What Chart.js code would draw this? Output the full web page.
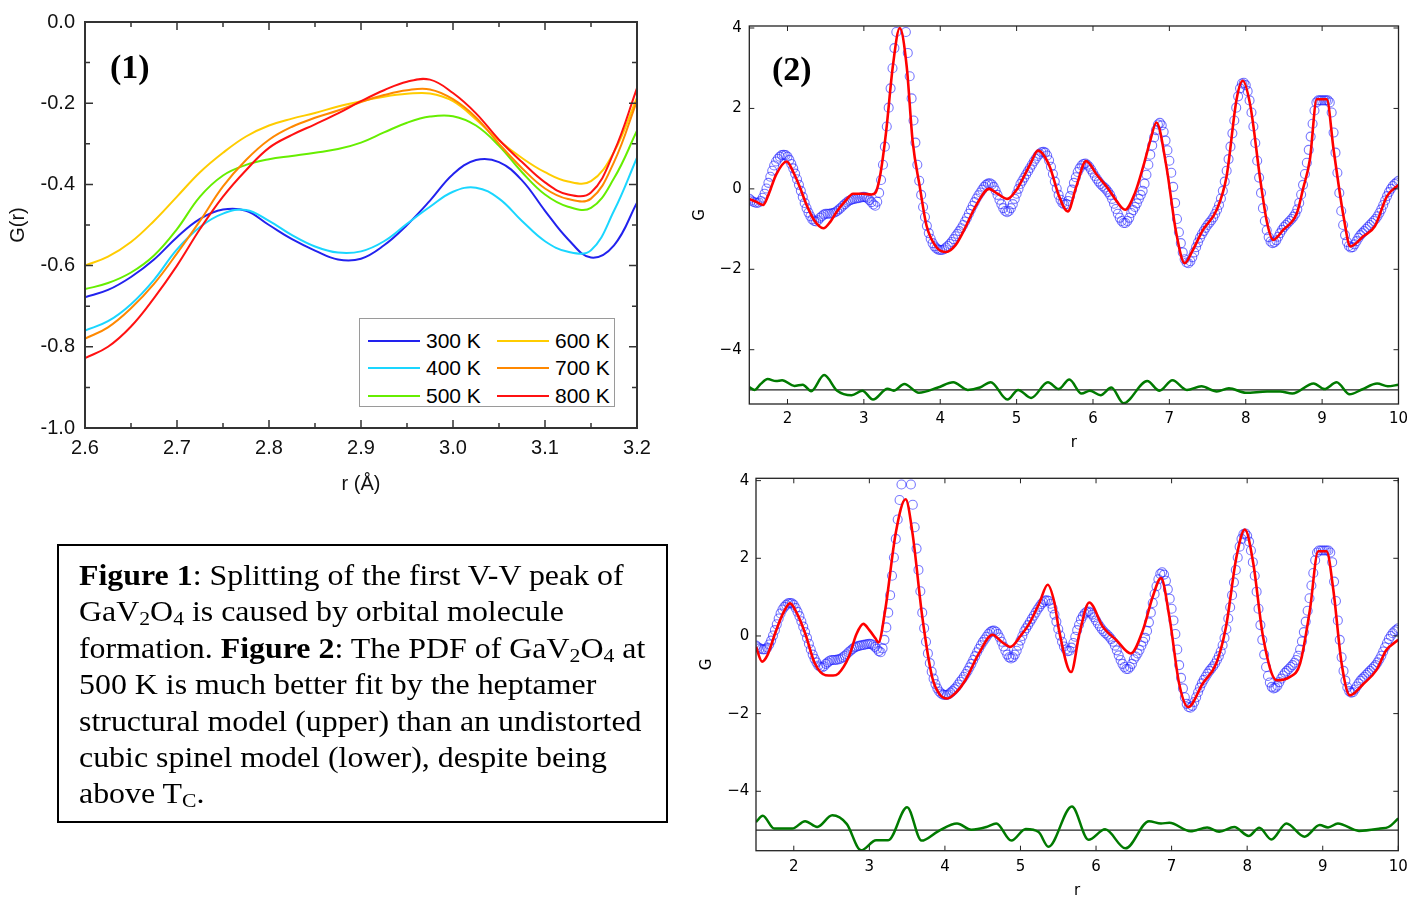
<!DOCTYPE html>
<html>
<head>
<meta charset="utf-8">
<script src="https://cdn.jsdelivr.net/npm/chart.js@4.4.1/dist/chart.umd.min.js"></script>
<style>
html, body { margin: 0; padding: 0; background: #fff; overflow: hidden; }
canvas { position: absolute; }
#c1 { left: 0; top: 0; }
#c2 { left: 690px; top: 0; }
#c3 { left: 690px; top: 455px; }
.tag { position: absolute; font: bold 34px "Liberation Serif", "Times New Roman", serif; line-height: 34px; color: #000; }
#legend1 {
  position: absolute; left: 359px; top: 318px; width: 256px; height: 89px;
  box-sizing: border-box; border: 1px solid #9a9a9a; background: #fff;
  padding: 8px 0 0 8px; display: grid; grid-template-columns: 129px 119px;
  grid-template-rows: repeat(3, 27.5px); grid-auto-flow: column;
  font: 21px "Liberation Sans", Arial, sans-serif; color: #000;
}
#legend1 .it { display: flex; align-items: center; white-space: nowrap; }
#legend1 .sw { display: inline-block; width: 52px; height: 0; border-top: 2px solid; margin-right: 6px; }
#caption {
  position: absolute; left: 57px; top: 544px; width: 611px; height: 279px;
  box-sizing: border-box; border: 2px solid #000; padding: 10.9px 0 0 19.5px;
  font-family: "Liberation Serif", "Times New Roman", serif; font-size: 29px; line-height: 36.4px; color: #000;
}
#caption .inner { transform: scaleX(1.1); transform-origin: 0 0; white-space: nowrap; }
#caption sub { font-size: 0.68em; line-height: 0; vertical-align: -0.22em; }
</style>
</head>
<body>
<canvas id="c1" width="670" height="500"></canvas>
<canvas id="c2" width="734" height="460"></canvas>
<canvas id="c3" width="734" height="460"></canvas>
<div id="legend1"></div>
<div class="tag" style="left:110px; top:50px;">(1)</div>
<div class="tag" style="left:772px; top:52px;">(2)</div>
<div id="caption"><div class="inner">
<div><b>Figure 1</b>: Splitting of the first V-V peak of</div>
<div>GaV<sub>2</sub>O<sub>4</sub> is caused by orbital molecule</div>
<div>formation. <b>Figure 2</b>: The PDF of GaV<sub>2</sub>O<sub>4</sub> at</div>
<div>500 K is much better fit by the heptamer</div>
<div>structural model (upper) than an undistorted</div>
<div>cubic spinel model (lower), despite being</div>
<div>above T<sub>C</sub>.</div>
</div></div>
<script>
// ---- panel (1): first V-V peak, G(r) vs temperature
var rFirst = [2.600, 2.625, 2.650, 2.675, 2.700, 2.725, 2.750, 2.775, 2.800, 2.825, 2.850, 2.875, 2.900,
              2.925, 2.950, 2.975, 3.000, 3.025, 3.050, 3.075, 3.100, 3.125, 3.150, 3.175, 3.200];
var temps = ['300 K', '400 K', '500 K', '600 K', '700 K', '800 K'];
var tempColors = ['#2222ee', '#1ad6ff', '#66ee00', '#ffcc00', '#ff8800', '#ff1111'];
var g300 = [-0.678, -0.660, -0.628, -0.585, -0.530, -0.485, -0.462, -0.465, -0.500, -0.535, -0.563, -0.585, -0.583,
            -0.550, -0.500, -0.440, -0.375, -0.340, -0.345, -0.390, -0.465, -0.535, -0.580, -0.550, -0.445];
var g400 = [-0.760, -0.737, -0.695, -0.635, -0.560, -0.505, -0.472, -0.463, -0.490, -0.525, -0.553, -0.568, -0.565,
            -0.540, -0.497, -0.455, -0.418, -0.408, -0.435, -0.490, -0.540, -0.566, -0.562, -0.465, -0.334];
var g500 = [-0.658, -0.643, -0.617, -0.575, -0.510, -0.430, -0.378, -0.352, -0.338, -0.330, -0.322, -0.313, -0.297,
            -0.272, -0.248, -0.233, -0.232, -0.255, -0.305, -0.370, -0.425, -0.455, -0.458, -0.385, -0.268];
var g600 = [-0.600, -0.578, -0.542, -0.490, -0.430, -0.370, -0.322, -0.282, -0.255, -0.238, -0.224, -0.208, -0.195,
            -0.184, -0.177, -0.176, -0.195, -0.240, -0.292, -0.335, -0.370, -0.393, -0.392, -0.320, -0.186];
var g700 = [-0.780, -0.752, -0.705, -0.645, -0.570, -0.490, -0.405, -0.340, -0.290, -0.258, -0.236, -0.218, -0.197,
            -0.180, -0.168, -0.166, -0.190, -0.235, -0.300, -0.360, -0.410, -0.436, -0.435, -0.345, -0.194];
var g800 = [-0.828, -0.800, -0.750, -0.680, -0.600, -0.510, -0.430, -0.365, -0.310, -0.278, -0.252, -0.225, -0.195,
            -0.168, -0.147, -0.142, -0.175, -0.225, -0.290, -0.345, -0.395, -0.425, -0.420, -0.320, -0.163];
var tempSeries = [g300, g400, g500, g600, g700, g800];

// ---- panel (2): 500 K PDF, data sampled every 0.025 A from r = 1.5
var rStart = 1.5, rStep = 0.025;
var gObs = [
  -0.25,-0.29,-0.32,-0.34,-0.35,-0.34,-0.30,-0.22,-0.12,0.01,0.15,0.30,0.45,0.58,0.68,0.75,0.80,0.84,0.85,0.84,
  0.80,0.72,0.62,0.51,0.38,0.24,0.10,-0.05,-0.20,-0.35,-0.48,-0.59,-0.68,-0.76,-0.80,-0.81,-0.78,-0.72,-0.68,-0.64,
  -0.62,-0.62,-0.62,-0.61,-0.60,-0.58,-0.55,-0.51,-0.47,-0.42,-0.38,-0.34,-0.30,-0.28,-0.26,-0.25,-0.24,-0.23,-0.22,-0.21,
  -0.20,-0.21,-0.24,-0.28,-0.33,-0.39,-0.42,-0.32,-0.10,0.22,0.60,1.05,1.55,2.02,2.50,3.00,3.50,3.90,4.20,4.35,
  4.35,4.18,3.90,3.38,2.80,2.25,1.70,1.15,0.60,0.20,-0.15,-0.45,-0.70,-0.92,-1.10,-1.24,-1.35,-1.43,-1.48,-1.51,
  -1.52,-1.52,-1.50,-1.46,-1.42,-1.37,-1.32,-1.25,-1.18,-1.12,-1.05,-0.98,-0.90,-0.81,-0.72,-0.62,-0.52,-0.42,-0.33,-0.24,
  -0.16,-0.09,-0.02,0.05,0.10,0.13,0.14,0.11,0.05,-0.04,-0.15,-0.27,-0.38,-0.48,-0.55,-0.58,-0.55,-0.48,-0.38,-0.25,
  -0.12,0.00,0.12,0.20,0.28,0.36,0.44,0.52,0.60,0.68,0.75,0.82,0.87,0.91,0.92,0.90,0.83,0.71,0.55,0.37,
  0.18,0.01,-0.15,-0.27,-0.35,-0.39,-0.38,-0.30,-0.18,-0.02,0.15,0.29,0.42,0.51,0.58,0.62,0.63,0.60,0.55,0.48,
  0.40,0.32,0.25,0.18,0.12,0.07,0.03,-0.02,-0.08,-0.15,-0.25,-0.37,-0.50,-0.62,-0.72,-0.80,-0.85,-0.85,-0.80,-0.72,
  -0.60,-0.53,-0.45,-0.36,-0.25,-0.15,-0.05,0.13,0.35,0.60,0.85,1.08,1.28,1.46,1.60,1.64,1.58,1.42,1.20,0.96,
  0.70,0.40,0.05,-0.35,-0.75,-1.08,-1.35,-1.58,-1.75,-1.83,-1.85,-1.80,-1.70,-1.58,-1.45,-1.33,-1.22,-1.13,-1.05,-0.97,
  -0.90,-0.84,-0.78,-0.71,-0.62,-0.52,-0.40,-0.24,-0.05,0.18,0.45,0.74,1.05,1.38,1.70,2.02,2.30,2.50,2.62,2.64,
  2.58,2.43,2.20,1.90,1.55,1.14,0.70,0.28,-0.10,-0.48,-0.80,-1.03,-1.20,-1.31,-1.35,-1.33,-1.28,-1.19,-1.10,-1.02,
  -0.95,-0.90,-0.85,-0.80,-0.75,-0.69,-0.62,-0.51,-0.35,-0.14,0.10,0.37,0.65,0.97,1.30,1.62,1.95,2.15,2.20,2.20,
  2.20,2.20,2.20,2.20,2.15,1.90,1.40,0.90,0.40,-0.10,-0.55,-0.90,-1.15,-1.32,-1.42,-1.46,-1.45,-1.38,-1.30,-1.22,
  -1.15,-1.10,-1.05,-1.00,-0.95,-0.90,-0.85,-0.80,-0.75,-0.68,-0.60,-0.51,-0.40,-0.29,-0.18,-0.08,0.00,0.07,0.12,0.16,
  0.20
];

// heptamer model fit (upper) and its difference curve
var rFitHep = [1.50, 1.60, 1.68, 1.75, 1.85, 1.99, 2.08, 2.16, 2.25, 2.35, 2.47, 2.56, 2.64, 2.75, 2.86, 2.99, 3.10, 3.15,
  3.21, 3.29, 3.38, 3.47, 3.56, 3.64, 3.73, 3.82, 3.95, 4.08, 4.20, 4.30, 4.47, 4.64, 4.75, 4.88, 5.00, 5.08, 5.18, 5.28,
  5.43, 5.55, 5.67, 5.78, 5.91, 6.05, 6.20, 6.30, 6.42, 6.55, 6.66, 6.75, 6.83, 6.96, 7.09, 7.20, 7.30, 7.44, 7.62, 7.75,
  7.88, 7.96, 8.06, 8.19, 8.28, 8.36, 8.49, 8.67, 8.75, 8.84, 8.93, 9.06, 9.15, 9.28, 9.37, 9.54, 9.69, 9.85, 10.00];
var gFitHep = [-0.25, -0.33, -0.40, -0.15, 0.35, 0.68, 0.40, 0.05, -0.40, -0.78, -0.98, -0.82, -0.58, -0.32, -0.12, -0.12, -0.14, -0.10,
  0.30, 1.40, 3.06, 4.00, 3.06, 1.16, 0.08, -0.91, -1.45, -1.57, -1.40, -1.07, -0.41, 0.00, -0.12, -0.25, -0.02, 0.25, 0.62, 0.95,
  0.57, -0.15, -0.56, 0.05, 0.69, 0.35, 0.00, -0.28, -0.52, -0.10, 0.57, 1.20, 1.65, 0.57, -1.10, -1.85, -1.55, -1.02, -0.52, 0.32,
  2.23, 2.69, 2.07, 0.23, -0.85, -1.27, -1.02, -0.60, 0.00, 0.73, 2.23, 2.23, 0.98, -0.68, -1.43, -1.18, -0.93, -0.18, 0.10];
var rDiffHep = [1.50, 1.57, 1.65, 1.74, 1.85, 1.93, 2.09, 2.20, 2.31, 2.48, 2.65, 2.84, 2.98, 3.12, 3.31, 3.39, 3.53, 3.72,
  3.97, 4.17, 4.36, 4.52, 4.66, 4.88, 5.02, 5.19, 5.41, 5.55, 5.69, 5.85, 5.96, 6.10, 6.24, 6.40, 6.71, 6.87, 7.04, 7.23,
  7.42, 7.62, 7.78, 8.00, 8.28, 8.45, 8.61, 8.89, 9.03, 9.19, 9.36, 9.52, 9.72, 9.86, 10.00];
var gDiffHep = [-4.93, -5.00, -4.85, -4.73, -4.78, -4.76, -4.90, -4.87, -5.03, -4.63, -5.02, -5.13, -5.02, -5.24, -4.97, -5.02, -4.85, -5.07,
  -4.94, -4.81, -5.00, -4.94, -4.81, -5.24, -5.00, -5.20, -4.81, -4.98, -4.74, -5.09, -5.02, -5.13, -4.94, -5.33, -4.78, -5.02, -4.76, -5.00,
  -4.91, -5.04, -4.96, -5.07, -5.04, -5.04, -5.09, -4.84, -4.98, -4.81, -5.11, -4.99, -4.84, -4.91, -4.87];

// undistorted cubic spinel fit (lower) and its difference curve
var rFitCub = [1.50, 1.58, 1.65, 1.75, 1.85, 1.95, 2.05, 2.15, 2.28, 2.42, 2.52, 2.59, 2.73, 2.83, 2.92, 3.00, 3.08, 3.12,
  3.21, 3.35, 3.48, 3.57, 3.70, 3.83, 3.93, 4.03, 4.15, 4.27, 4.45, 4.63, 4.75, 4.87, 5.00, 5.12, 5.25, 5.36, 5.45, 5.51,
  5.67, 5.78, 5.91, 6.09, 6.27, 6.46, 6.62, 6.75, 6.86, 6.97, 7.10, 7.22, 7.41, 7.59, 7.72, 7.86, 7.97, 8.08, 8.21, 8.39,
  8.56, 8.70, 8.83, 8.94, 9.05, 9.14, 9.25, 9.36, 9.54, 9.71, 9.84, 10.00];
var gFitCub = [-0.28, -0.66, -0.50, 0.05, 0.55, 0.84, 0.55, 0.07, -0.71, -1.01, -1.02, -0.97, -0.53, 0.05, 0.31, 0.15, -0.06, -0.17,
  0.67, 2.66, 3.52, 2.66, 0.50, -1.05, -1.50, -1.61, -1.45, -1.14, -0.45, 0.03, -0.15, -0.28, 0.00, 0.33, 0.85, 1.32, 0.85, 0.15,
  -0.93, 0.06, 0.86, 0.24, -0.11, -0.45, 0.15, 1.01, 1.49, 0.50, -1.23, -1.83, -1.23, -0.71, 0.24, 2.05, 2.74, 1.88, -0.02, -1.14,
  -1.06, -0.71, 0.67, 2.18, 2.18, 1.19, -0.71, -1.53, -1.23, -0.88, -0.37, -0.10];
var rDiffCub = [1.50, 1.59, 1.74, 1.98, 2.15, 2.31, 2.51, 2.70, 2.89, 3.09, 3.25, 3.50, 3.69, 3.91, 4.16, 4.35, 4.55, 4.68,
  4.88, 5.07, 5.24, 5.37, 5.68, 5.90, 6.12, 6.39, 6.70, 6.86, 6.97, 7.25, 7.47, 7.63, 7.83, 8.02, 8.16, 8.32, 8.52, 8.76,
  8.96, 9.07, 9.20, 9.48, 9.76, 9.87, 10.00];
var gDiffCub = [-4.79, -4.63, -4.96, -4.96, -4.77, -4.92, -4.62, -4.84, -5.52, -5.26, -5.26, -4.41, -5.27, -5.03, -4.83, -4.99, -4.92, -4.83,
  -5.27, -4.97, -5.05, -5.43, -4.39, -5.25, -4.98, -5.47, -4.77, -4.83, -4.81, -5.03, -4.93, -5.04, -4.92, -5.15, -4.94, -5.24, -4.83, -5.17,
  -4.87, -4.93, -4.83, -5.02, -4.96, -4.92, -4.70];
var diffOffset = -5;

// frame around the plot with inward ticks on all four sides
var frameTicks = {
  id: 'frameTicks',
  afterDraw: function(chart, args, o) {
    var ctx = chart.ctx, a = chart.chartArea, sx = chart.scales.x, sy = chart.scales.y;
    var isMajor = function(v, step) { return Math.abs(v / step - Math.round(v / step)) < 1e-6; };
    ctx.save();
    ctx.strokeStyle = o.color;
    ctx.lineWidth = o.tickWidth;
    ctx.beginPath();
    sx.ticks.forEach(function(t) {
      var p = sx.getPixelForValue(t.value);
      var len = isMajor(t.value, o.stepX) ? o.major : o.minor;
      ctx.moveTo(p, a.bottom); ctx.lineTo(p, a.bottom - len);
      ctx.moveTo(p, a.top); ctx.lineTo(p, a.top + len);
    });
    sy.ticks.forEach(function(t) {
      var p = sy.getPixelForValue(t.value);
      var len = isMajor(t.value, o.stepY) ? o.major : o.minor;
      ctx.moveTo(a.left, p); ctx.lineTo(a.left + len, p);
      ctx.moveTo(a.right, p); ctx.lineTo(a.right - len, p);
    });
    ctx.stroke();
    ctx.lineWidth = o.width;
    ctx.strokeRect(a.left, a.top, a.right - a.left, a.bottom - a.top);
    ctx.restore();
  }
};

function pts(xs, ys) {
  return xs.map(function(x, i) { return {x: x, y: ys[i]}; });
}

// ---- chart (1)
var font1 = {family: '"Liberation Sans", Arial, sans-serif', size: 20};
new Chart('c1', {
  type: 'line',
  data: {
    datasets: tempSeries.map(function(g, i) {
      return {label: temps[i], data: pts(rFirst, g), borderColor: tempColors[i], borderWidth: 2,
              pointRadius: 0, tension: 0.4, fill: false};
    }).reverse()
  },
  options: {
    responsive: false, animation: false, events: [],
    layout: {padding: {left: 0, top: 21, right: 33, bottom: 0}},
    plugins: {
      legend: {display: false}, tooltip: {enabled: false},
      frameTicks: {color: '#333', width: 2, tickWidth: 1.5, major: 8, minor: 5, stepX: 0.1, stepY: 0.2}
    },
    scales: {
      x: {
        type: 'linear', min: 2.6, max: 3.2,
        grid: {display: false, drawTicks: false}, border: {display: false},
        ticks: {stepSize: 0.05, autoSkip: false, maxRotation: 0, padding: 8, color: '#111', font: font1,
                callback: function(v) { return Math.abs(v * 10 - Math.round(v * 10)) < 1e-6 ? v.toFixed(1) : ''; }},
        title: {display: true, text: 'r (Å)', color: '#111', font: font1, padding: {top: 0, bottom: 4}},
        afterFit: function(s) { s.height = 72; }
      },
      y: {
        min: -1.0, max: 0.0,
        grid: {display: false, drawTicks: false}, border: {display: false},
        ticks: {stepSize: 0.1, autoSkip: false, padding: 10, color: '#111', font: font1,
                callback: function(v) {
                  if (Math.abs(v * 5 - Math.round(v * 5)) > 1e-6) return '';
                  return Math.abs(v) < 1e-9 ? '0.0' : v.toFixed(1);
                }},
        title: {display: true, text: 'G(r)', color: '#111', font: font1, padding: {top: 6, bottom: 0}},
        afterFit: function(s) { s.width = 85; }
      }
    }
  },
  plugins: [frameTicks]
});

// legend of chart (1)
var leg = document.getElementById('legend1');
temps.forEach(function(t, i) {
  var it = document.createElement('div');
  it.className = 'it';
  it.innerHTML = '<span class="sw" style="border-top-color:' + tempColors[i] + '"></span><span>' + t + '</span>';
  leg.appendChild(it);
});

// ---- charts (2)
var rObs = gObs.map(function(_, i) { return +(rStart + i * rStep).toFixed(3); });
var font2 = {family: '"DejaVu Sans", sans-serif', size: 15};
function minusFmt(v) { return v < 0 ? '\u2212' + Math.abs(v) : String(v); }

function pdfChart(id, fitR, fitG, diffR, diffG, g) {
  return new Chart(id, {
    type: 'line',
    data: {
      datasets: [
        {label: 'fit', data: pts(fitR, fitG), borderColor: '#ff0000', borderWidth: 2.6, pointRadius: 0,
         cubicInterpolationMode: 'monotone'},
        {label: 'data', data: pts(rObs, gObs), showLine: false, pointRadius: 4.5, pointBorderWidth: 1.1,
         borderColor: 'rgba(30,30,255,0.6)', backgroundColor: 'rgba(0,0,0,0)'},
        {label: 'difference', data: pts(diffR, diffG), borderColor: '#007a00', borderWidth: 2.5, pointRadius: 0,
         cubicInterpolationMode: 'monotone'},
        {label: 'zero', data: [{x: 1.5, y: diffOffset}, {x: 10, y: diffOffset}], borderColor: '#222',
         borderWidth: 1.2, pointRadius: 0}
      ]
    },
    options: {
      responsive: false, animation: false, events: [],
      layout: {padding: {left: 0, top: g.top, right: g.right, bottom: 0}},
      plugins: {
        legend: {display: false}, tooltip: {enabled: false},
        frameTicks: {color: '#222', width: 1.3, tickWidth: 1, major: 5, minor: 5, stepX: 1, stepY: 2}
      },
      scales: {
        x: {
          type: 'linear', min: 1.5, max: 10,
          grid: {display: false, drawTicks: false}, border: {display: false},
          ticks: {stepSize: 1, includeBounds: false, autoSkip: false, maxRotation: 0, padding: g.xPad,
                  color: '#000', font: font2, callback: minusFmt},
          title: {display: true, text: 'r', color: '#000', font: font2, padding: {top: 0, bottom: g.xTitle}},
          afterFit: function(s) { s.height = g.xH; }
        },
        y: {
          min: g.yMin, max: g.yMax,
          grid: {display: false, drawTicks: false}, border: {display: false},
          ticks: {stepSize: 2, includeBounds: false, autoSkip: false, padding: g.yPad,
                  color: '#000', font: font2, callback: minusFmt},
          title: {display: true, text: 'G', color: '#000', font: font2, padding: {top: g.yTitle, bottom: 0}},
          afterFit: function(s) { s.width = g.yW; }
        }
      }
    },
    plugins: [frameTicks]
  });
}

pdfChart('c2', rFitHep, gFitHep, rDiffHep, gDiffHep,
  {top: 26, right: 25.5, xH: 56, xPad: 6, xTitle: 8, yW: 59.3, yPad: 7.6, yTitle: 1, yMin: -5.35, yMax: 4.05});
pdfChart('c3', rFitCub, gFitCub, rDiffCub, gDiffCub,
  {top: 23.3, right: 25.7, xH: 64.3, xPad: 7, xTitle: 15, yW: 66, yPad: 6.7, yTitle: 8, yMin: -5.53, yMax: 4.06});
</script>
</body>
</html>
